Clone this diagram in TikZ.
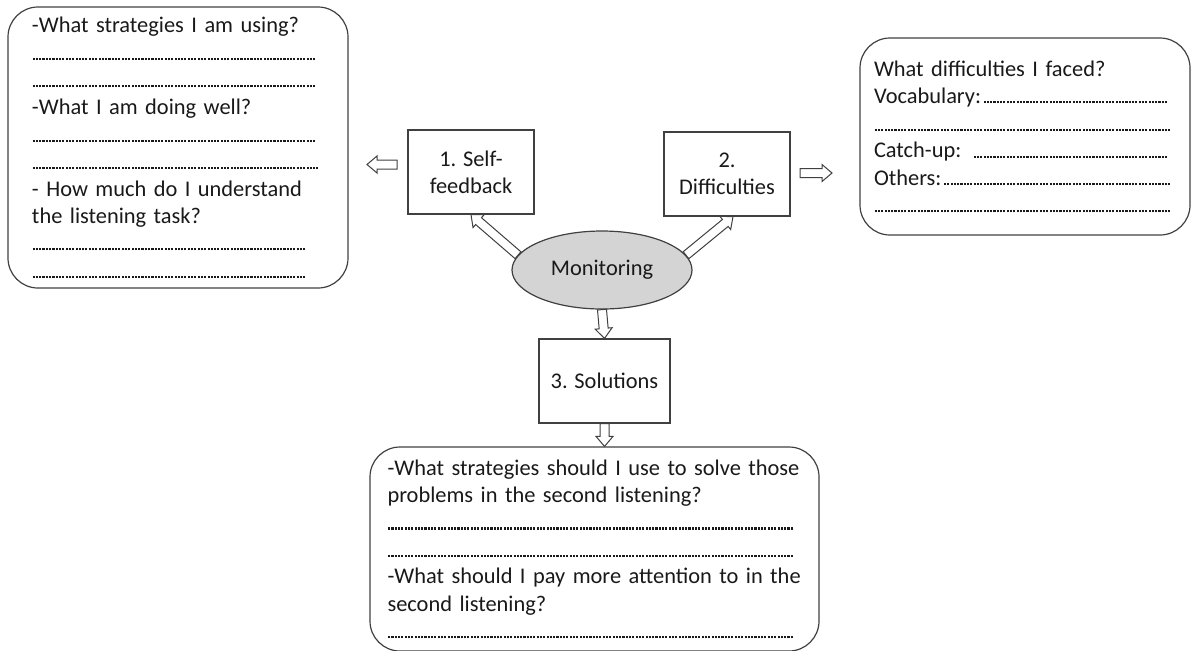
\documentclass[tikz,border=0pt]{standalone}
\usepackage{fontspec}
\setmainfont{Carlito}
\usepackage{tikz}
\usetikzlibrary{positioning,calc,shapes.geometric}

% a row of dots, optionally after a label
\newcommand{\dline}[2][]{\leavevmode\hbox to #2{#1\leaders\hbox to 1.65pt{\hss\rule{1.05pt}{1.05pt}\hss}\hfill}}

\begin{document}
\begin{tikzpicture}[x=0.5pt,y=-0.5pt,
  every node/.style={font=\fontsize{11.2pt}{13.6pt}\selectfont, text=black!90},
  note/.style={draw=black!75, line width=0.6pt, rounded corners=15pt, align=left, inner ysep=0pt},
  stage/.style={draw=black!75, line width=0.6pt, align=center, minimum width=63pt, minimum height=42pt, inner sep=2pt},
  hollow/.style={draw=black!75, line width=0.5pt, fill=white,
    to path={let \p1=(\tikztostart), \p2=(\tikztotarget), \n1={atan2(\y2-\y1,\x2-\x1)} in
      ($(\p1)+(\n1+90:2.25pt)$) -- ($(\p2)+(\n1+180:5pt)+(\n1+90:2.25pt)$)
      -- ($(\p2)+(\n1+180:5pt)+(\n1+90:4.25pt)$) -- (\p2)
      -- ($(\p2)+(\n1+180:5pt)+(\n1-90:4.25pt)$) -- ($(\p2)+(\n1+180:5pt)+(\n1-90:2.25pt)$)
      -- ($(\p1)+(\n1-90:2.25pt)$) -- cycle}}]
\useasboundingbox (0,0) rectangle (1192,650);

% centre
\node[ellipse, draw=black!75, line width=0.6pt, fill=black!17, minimum width=90pt, minimum height=39pt, inner sep=0pt] (mon) at (602,270) {Monitoring};
\node[stage] (sf) at (471,172) {1. Self-\\feedback};
\node[stage] (df) at (727,174) {2.\\Difficulties};
\node[stage, minimum width=65.5pt] (sol) at (604.5,381) {3. Solutions};

% notes
\node[note, text width=146pt, inner xsep=12pt, minimum width=170pt, minimum height=140.5pt] (q1) at (178,147.5) {%
-What strategies I am using?\\
\dline{143pt}\\
\dline{143pt}\\
-What I am doing well?\\
\dline{143pt}\\
\dline{144pt}\\
- How much do I understand\\
the listening task?\\
\dline{138pt}\\
\dline{138pt}};
\node[note, text width=151pt, inner xsep=7pt, minimum width=165pt, minimum height=98.5pt] (q2) at (1025,136.5) {%
What difficulties I faced?\\
\dline[Vocabulary:]{147pt}\\
\dline{149pt}\\
\dline[Catch-up: ]{148pt}\\
\dline[Others:]{149.5pt}\\
\dline{149pt}};
\node[note, text width=207pt, inner xsep=8.75pt, minimum width=224.5pt, minimum height=102pt] (q3) at (594.5,549) {%
-What strategies should I use to solve those\\
problems in the second listening?\\
\dline{204pt}\\
\dline{203pt}\\
-What should I pay more attention to in the\\
second listening?\\
\dline{204pt}};

% arrows
\coordinate (la1) at (397,164.5);
\coordinate (la2) at (367,164.5);
\coordinate (ra1) at (800,173);
\coordinate (ra2) at (832,173);
\draw[hollow] (la1) to (la2);
\draw[hollow] (ra1) to (ra2);
\draw[hollow] (mon.170) to (sf.south);
\draw[hollow] (mon.10) to ($(df.south)+(6,0)$);
\draw[hollow] (mon.south) to (sol.north);
\draw[hollow] (sol.south) to (sol.south |- q3.north);
\end{tikzpicture}
\end{document}
